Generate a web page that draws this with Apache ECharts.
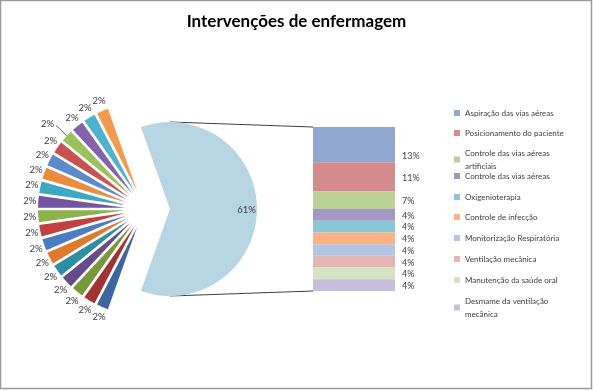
<!DOCTYPE html>
<html><head><meta charset="utf-8">
<script src="https://cdn.jsdelivr.net/npm/echarts@6/dist/echarts.min.js"></script>
<style>html,body{margin:0;padding:0;background:#fff}#c{width:593px;height:390px}</style>
</head><body><div id="c"></div>
<script>
// ---- data ----
const chartTitle = 'Intervenções de enfermagem';
const barCategories = [
  'Aspiração das vias aéreas',
  'Posicionamento do paciente',
  'Controle das vias aéreas artificiais',
  'Controle das vias aéreas',
  'Oxigenioterapia',
  'Controle de infecção',
  'Monitorização Respiratória',
  'Ventilação mecânica',
  'Manutenção da saúde oral',
  'Desmame da ventilação mecânica'
];
const barValues = [6, 5, 3, 2, 2, 2, 2, 2, 2, 2];
const pieCategories = [
  'Intervenção 1','Intervenção 2','Intervenção 3','Intervenção 4','Intervenção 5','Intervenção 6',
  'Intervenção 7','Intervenção 8','Intervenção 9','Intervenção 10','Intervenção 11','Intervenção 12',
  'Intervenção 13','Intervenção 14','Intervenção 15','Intervenção 16','Intervenção 17','Intervenção 18'
];
const pieValues = [1, 1, 1, 1, 1, 1, 1, 1, 1, 1, 1, 1, 1, 1, 1, 1, 1, 1];
const otherName = 'Outras';

// ---- styles ----
const barColors = ['#8FA6CE','#D38C8B','#BBD195','#A497C2','#8AC6D6','#F9B283','#B4C4E3','#E4B5B5','#D4E4C1','#C7BEDA'];
const pieColors = ['#3A66A1','#A2322F','#77993B','#664B8A','#2E8DA6','#DF7A2A',
                   '#4A7EC0','#C0413E','#8DB24A','#7354A0','#3EA8C4','#EA8B3D',
                   '#5B8BCB','#C85250','#9BC25A','#8462AE','#4CB3CF','#F7994A'];
const otherColor = '#B7D5E2';
const textColor = '#404040';
const font = 'Lato';

// ---- layout ----
const pieCenter = [145, 209], pieR = 87, explode = 20, labelGap = 2, labelVPad = 4;
const otherCenter = [170, 209];
const barBox = {left: 313, top: 127, width: 82, height: 164};
const legendLineY = [113, 133, 153, 176, 197, 217, 238, 259, 280, 301];
const leaderIndex = 14, leaderShift = [-13, -5];

const otherValue = barValues.reduce((a, b) => a + b, 0);
const pieSum = pieValues.reduce((a, b) => a + b, 0);
const total = otherValue + pieSum;
const pct = v => Math.round(v / total * 100) + '%';
const startAngle = otherValue / total * 360 / 2;

const chart = echarts.init(document.getElementById('c'));

const hidden = () => ({
  itemStyle: {color: 'transparent', borderWidth: 0}, label: {show: false}, labelLine: {show: false},
  emphasis: {disabled: true}, select: {disabled: true}
});

const smallValues = [otherValue].concat(pieValues);

// geometry of an exploded slice (k = index in smallValues)
function sliceGeom(k) {
  let cum = 0;
  for (let j = 0; j < k; j++) cum += smallValues[j];
  const mid = (startAngle - 360 * (cum + smallValues[k] / 2) / total) * Math.PI / 180;
  const dx = Math.cos(mid), dy = -Math.sin(mid);
  return {dx, dy, cx: pieCenter[0] + explode * dx, cy: pieCenter[1] + explode * dy};
}
function labelCenter(k, w, h) {
  const g = sliceGeom(k);
  const rr = pieR + labelGap;
  let x = g.cx + rr * g.dx + g.dx * w / 2;
  let y = g.cy + rr * g.dy + g.dy * (h / 2 + labelVPad);
  if (k - 1 === leaderIndex) { x += leaderShift[0]; y += leaderShift[1]; }
  return [x, y];
}

const slicesData = [Object.assign({value: otherValue, name: '_outras'}, hidden())]
  .concat(pieValues.map((v, i) => ({value: v, name: pieCategories[i], selected: true, itemStyle: {color: pieColors[i]}})));
const labelData = [Object.assign({value: otherValue, name: '_outras'}, hidden())]
  .concat(pieValues.map((v, i) => ({value: v, name: pieCategories[i], itemStyle: {color: 'transparent'}})));

const series = [
  {
    type: 'pie', center: otherCenter, radius: pieR, startAngle: startAngle, clockwise: true,
    silent: true, animation: false,
    data: [
      {value: otherValue, name: otherName, itemStyle: {color: otherColor},
       label: {show: true, position: 'inside', formatter: p => pct(p.value), offset: [30, 1],
               fontSize: 9.5, color: textColor, fontFamily: font}},
      Object.assign({value: pieSum, name: '_resto'}, hidden())
    ]
  },
  {
    // exploded small slices
    type: 'pie', center: pieCenter, radius: pieR, startAngle: startAngle, clockwise: true,
    selectedMode: 'multiple', selectedOffset: explode, silent: true, animation: false,
    label: {show: false}, labelLine: {show: false},
    data: slicesData
  },
  {
    // label carrier for the small slices (Excel-like label placement)
    type: 'pie', center: pieCenter, radius: pieR, startAngle: startAngle, clockwise: true,
    silent: true, animation: false, avoidLabelOverlap: false,
    label: {show: true, position: 'outside', formatter: p => pct(p.value), fontSize: 9.5,
            color: textColor, fontFamily: font},
    labelLine: {show: false, length: 3, length2: 0},
    labelLayout: function (params) {
      const k = params.dataIndex;
      if (k === 0) return {};
      const c = labelCenter(k, params.labelRect.width, params.labelRect.height);
      return {x: c[0], y: c[1], align: 'center', verticalAlign: 'middle'};
    },
    data: labelData
  }
];

barCategories.forEach((name, i) => {
  series.push({
    type: 'bar', name: name, stack: 'outras', xAxisIndex: 0, yAxisIndex: 0,
    barWidth: '100%', animation: false, silent: true,
    itemStyle: {color: barColors[i]},
    label: {show: true, position: 'right', distance: 7, formatter: p => pct(p.value),
            fontSize: 9, color: textColor, fontFamily: font, offset: i === 0 ? [0, 12] : [0, 1]},
    data: [barValues[i]]
  });
});

const legends = barCategories.map((name, i) => ({
  data: [name], left: 454, top: legendLineY[i] - 6.5, orient: 'vertical',
  itemWidth: 6, itemHeight: 6, icon: 'rect', padding: 0, selectedMode: false,
  textStyle: {fontSize: 8, color: textColor, lineHeight: 13, width: 112, overflow: 'break', fontFamily: font}
}));

// leader line for the one displaced pie label
const lg = sliceGeom(leaderIndex + 1);
const lStart = [lg.cx + pieR * lg.dx, lg.cy + pieR * lg.dy];
const lLabel = labelCenter(leaderIndex + 1, 12, 12);
const lEnd = [lLabel[0] + 8, lLabel[1] + 3];

chart.setOption({
  backgroundColor: '#fff',
  animation: false,
  title: {text: chartTitle, left: 'center', top: 8,
          textStyle: {fontSize: 17, fontWeight: 'bold', color: '#000', fontFamily: font}},
  legend: legends,
  grid: {left: barBox.left, top: barBox.top, width: barBox.width, height: barBox.height},
  xAxis: {type: 'category', data: [otherName], show: false},
  yAxis: {type: 'value', min: 0, max: otherValue, inverse: true, show: false},
  series: series,
  graphic: [
    {type: 'rect', shape: {x: 0.5, y: 0.5, width: 591, height: 388},
     style: {fill: 'none', stroke: '#9a9a9a', lineWidth: 1.5}, silent: true},
    {type: 'line', shape: {x1: otherCenter[0], y1: otherCenter[1] - pieR, x2: barBox.left, y2: barBox.top},
     style: {stroke: textColor, lineWidth: 1}, silent: true},
    {type: 'line', shape: {x1: otherCenter[0], y1: otherCenter[1] + pieR, x2: barBox.left, y2: barBox.top + barBox.height},
     style: {stroke: textColor, lineWidth: 1}, silent: true},
    {type: 'polyline', shape: {points: [lStart, [lEnd[0] + 3, lEnd[1] + 2], lEnd]},
     style: {stroke: textColor, lineWidth: 0.8, fill: 'none'}, silent: true, z: 10}
  ]
});
</script></body></html>
